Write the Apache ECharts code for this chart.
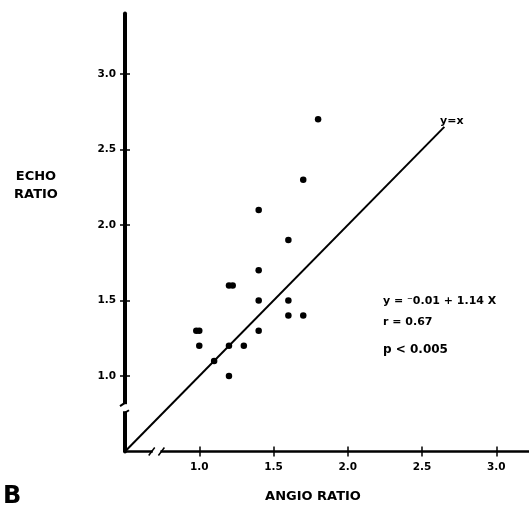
<!DOCTYPE html>
<html>
<head>
<meta charset="utf-8">
<script src="https://cdn.jsdelivr.net/npm/echarts@6/dist/echarts.min.js"></script>
<style>
  html, body { margin: 0; padding: 0; background: #fff; }
  #chart { width: 529px; height: 512px; }
</style>
</head>
<body>
<div id="chart"></div>
<script>
// data
const angioRatio = [0.98, 1.0, 1.0, 1.1, 1.2, 1.2, 1.2, 1.225, 1.3, 1.4, 1.4, 1.4, 1.4, 1.6, 1.6, 1.6, 1.7, 1.7, 1.8];
const echoRatio  = [1.3, 1.3, 1.2, 1.1, 1.2, 1.0, 1.6, 1.6, 1.2, 1.7, 1.5, 1.3, 2.1, 1.9, 1.5, 1.4, 1.4, 2.3, 2.7];
const identityEnds = [0.5, 2.65];
const xTicks = [1.0, 1.5, 2.0, 2.5, 3.0];
const yTicks = [1.0, 1.5, 2.0, 2.5, 3.0];
const xBreak = [0.68, 0.745];
const yBreak = [0.76, 0.82];

const ink = '#000';
const font = 'DejaVu Sans';

const points = angioRatio.map((x, i) => [x, echoRatio[i]]);
const identity = identityEnds.map(v => [v, v]);

function axisPair(kind, ticks, lineWidth, min, max) {
  const base = {
    type: 'value', min: min, max: max,
    splitLine: { show: false },
    axisLine: { show: true, onZero: false, lineStyle: { color: ink, width: lineWidth } },
    axisTick: { show: true, length: 5, lineStyle: { color: ink, width: 1.5 }, customValues: ticks },
    axisLabel: {
      show: true, margin: kind === 'x' ? 10 : 9, color: ink,
      fontFamily: font, fontWeight: 'bold', fontSize: 10.5,
      customValues: ticks, formatter: v => v.toFixed(1)
    }
  };
  const inner = {
    type: 'value', min: min, max: max,
    splitLine: { show: false },
    axisLine: { show: false, onZero: false },
    axisTick: { show: true, inside: true, length: 5, lineStyle: { color: ink, width: 1.5 }, customValues: ticks },
    axisLabel: { show: false }
  };
  return [base, inner];
}

const chart = echarts.init(document.getElementById('chart'));

chart.setOption({
  animation: false,
  backgroundColor: '#fff',
  grid: { left: 125, right: 0, top: 13.6, bottom: 60.5, containLabel: false },
  xAxis: axisPair('x', xTicks, 2.5, 0.5, 3.22).map(a => Object.assign(a, { position: 'bottom' })),
  yAxis: axisPair('y', yTicks, 4, 0.5, 3.4).map(a => Object.assign(a, { position: 'left' })),
  series: [
    {
      type: 'line', data: identity, xAxisIndex: 0, yAxisIndex: 0,
      symbol: 'none', lineStyle: { color: ink, width: 2 }, z: 2
    },
    {
      type: 'scatter', data: points, xAxisIndex: 0, yAxisIndex: 0,
      symbol: 'circle', symbolSize: 6.5, itemStyle: { color: ink, opacity: 1 }, z: 3
    }
  ]
});

// axis breaks + annotations
const px = p => chart.convertToPixel({ gridIndex: 0 }, p);
const xa = px([xBreak[0], 0.5]), xb = px([xBreak[1], 0.5]);
const ya = px([0.5, yBreak[1]]), yb = px([0.5, yBreak[0]]);

const slash = (x, y) => ({
  type: 'line', z: 101,
  shape: { x1: x - 3, y1: y + 4, x2: x + 3, y2: y - 4 },
  style: { stroke: ink, lineWidth: 1.5 }
});

const txt = (text, x, y, size, extra) => ({
  type: 'text', x: x, y: y, z: 102,
  style: Object.assign({
    text: text, fill: ink, font: 'bold ' + size + 'px "' + font + '"',
    textAlign: 'left', textVerticalAlign: 'middle'
  }, extra || {})
});

chart.setOption({
  graphic: [
    { type: 'rect', z: 100, shape: { x: xa[0] + 1, y: xa[1] - 5, width: xb[0] - xa[0] - 2, height: 10 }, style: { fill: '#fff' } },
    slash(xa[0], xa[1]),
    slash(xb[0], xb[1]),
    { type: 'rect', z: 100, shape: { x: ya[0] - 6, y: ya[1] + 1, width: 12, height: yb[1] - ya[1] - 2 }, style: { fill: '#fff' } },
    { type: 'line', z: 101, shape: { x1: ya[0] - 5, y1: ya[1] + 3, x2: ya[0] + 1, y2: ya[1] - 1 }, style: { stroke: ink, lineWidth: 2 } },
    { type: 'line', z: 101, shape: { x1: yb[0] - 1, y1: yb[1] + 1, x2: yb[0] + 4, y2: yb[1] - 2 }, style: { stroke: ink, lineWidth: 2 } },
    txt('ECHO', 36, 177, 13, { textAlign: 'center' }),
    txt('RATIO', 36, 195, 13, { textAlign: 'center' }),
    txt('ANGIO RATIO', 313, 497, 13, { textAlign: 'center' }),
    txt('B', 3, 497, 24),
    txt('y=x', 440, 121, 11),
    txt('y = \u207B0.01 + 1.14 X', 383, 301, 11),
    txt('r = 0.67', 383, 322, 11),
    txt('p < 0.005', 383, 350, 12)
  ]
});
</script>
</body>
</html>
